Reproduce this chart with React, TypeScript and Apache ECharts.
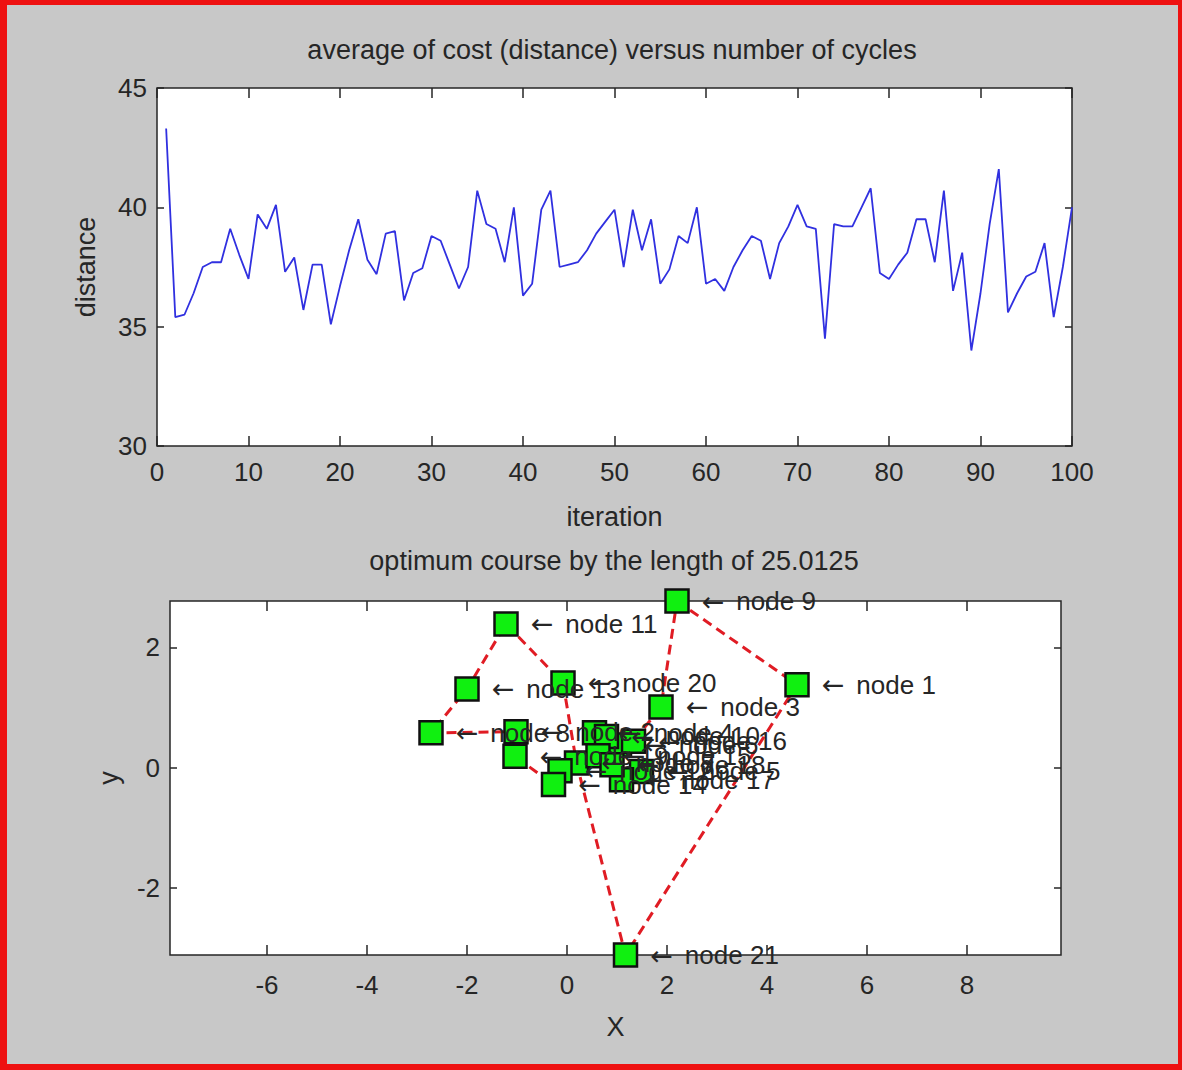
import React, { useEffect, useRef } from "react";
import * as echarts from "echarts";

// ---------- data ----------
const costAverage = [
  43.3, 35.4, 35.5, 36.4, 37.5, 37.7, 37.7, 39.1, 38.0, 37.0,
  39.7, 39.1, 40.1, 37.3, 37.9, 35.7, 37.6, 37.6, 35.1, 36.7,
  38.2, 39.5, 37.8, 37.2, 38.9, 39.0, 36.1, 37.25, 37.45, 38.8,
  38.6, 37.6, 36.6, 37.5, 40.7, 39.3, 39.1, 37.7, 40.0, 36.3,
  36.8, 39.9, 40.7, 37.5, 37.6, 37.7, 38.2, 38.9, 39.4, 39.9,
  37.5, 39.9, 38.2, 39.5, 36.8, 37.4, 38.8, 38.5, 40.0, 36.8,
  37.0, 36.5, 37.5, 38.2, 38.8, 38.6, 37.0, 38.5, 39.2, 40.1,
  39.2, 39.1, 34.5, 39.3, 39.2, 39.2, 40.0, 40.8, 37.25, 37.0,
  37.6, 38.1, 39.5, 39.5, 37.7, 40.7, 36.5, 38.1, 34.0, 36.4,
  39.3, 41.6, 35.6, 36.4, 37.1, 37.3, 38.5, 35.4, 37.5, 40.0,
];

const nodeIds = [1, 2, 3, 4, 5, 6, 7, 8, 9, 10, 11, 12, 13, 14, 15, 16, 17, 18, 19, 20, 21];
const nodeX = [4.6, -1.02, 1.88, 0.55, 1.49, 1.05, 0.19, -2.72, 2.2, 0.79, -1.22, -0.14, -2.0, -0.27, 0.62, 1.33, 1.09, 0.9, -1.04, -0.08, 1.17];
const nodeY = [1.38, 0.6, 1.01, 0.58, -0.06, 0.38, 0.08, 0.58, 2.77, 0.52, 2.39, -0.05, 1.31, -0.28, 0.2, 0.44, -0.2, 0.05, 0.19, 1.41, -3.11];
const tourOrder = [9, 1, 21, 7, 20, 11, 13, 8, 2, 19, 14, 12, 15, 4, 10, 18, 17, 5, 6, 16, 3, 9];

const topTitle = "average of cost (distance) versus number of cycles";
const bottomTitle = "optimum course by the length of 25.0125";
const bottomXTicks = [-6, -4, -2, 0, 2, 4, 6, 8];
const bottomYTicks = [-2, 0, 2];

// ---------- style ----------
const FONT = '"Liberation Sans", Arial, sans-serif';
const TEXT = "#262626";
const FRAME = "#262626";

export default function App() {
  const ref = useRef<HTMLDivElement>(null);

  useEffect(() => {
    if (!ref.current) return;
    const chart = echarts.init(ref.current, null, { renderer: "svg" });

    const lineData = costAverage.map((v, i) => [i + 1, v]);
    const idx = (id: number) => nodeIds.indexOf(id);
    const tourData = tourOrder.map((id) => [nodeX[idx(id)], nodeY[idx(id)]]);
    const nodeData = nodeIds.map((id, i) => ({
      name: "node " + id,
      value: [nodeX[i], nodeY[i]],
    }));

    const labelStyle = { fontFamily: FONT, fontSize: 26, color: TEXT };
    const nameStyle = { fontFamily: FONT, fontSize: 27, color: TEXT };
    const tickStyle = { color: FRAME, width: 1.5 };
    const hiddenLine = { show: false, onZero: false };

    const option: any = {
      animation: false,
      backgroundColor: "#c8c8c8",
      grid: [
        { left: 157, top: 88, width: 915, height: 358, show: true, backgroundColor: "#ffffff", borderColor: FRAME, borderWidth: 1.5 },
        { left: 170, top: 601, width: 891, height: 354, show: true, backgroundColor: "#ffffff", borderColor: FRAME, borderWidth: 1.5 },
      ],
      xAxis: [
        {
          gridIndex: 0, type: "value", min: 0, max: 100, interval: 10, position: "bottom",
          axisLine: hiddenLine,
          axisTick: { inside: true, length: 10, lineStyle: tickStyle },
          axisLabel: { ...labelStyle, margin: 13 },
          splitLine: { show: false },
          name: "iteration", nameLocation: "middle", nameGap: 57, nameTextStyle: nameStyle,
        },
        {
          gridIndex: 0, type: "value", min: 0, max: 100, interval: 10, position: "top",
          axisLine: hiddenLine,
          axisTick: { inside: true, length: 10, lineStyle: tickStyle },
          axisLabel: { show: false }, splitLine: { show: false },
        },
        {
          gridIndex: 1, type: "value", min: -7.94, max: 9.88, position: "bottom",
          axisLine: hiddenLine,
          axisTick: { inside: true, length: 10, lineStyle: tickStyle, customValues: bottomXTicks },
          axisLabel: { ...labelStyle, margin: 17, customValues: bottomXTicks },
          splitLine: { show: false },
          name: "X", nameLocation: "middle", nameGap: 58, nameTextStyle: nameStyle,
        },
        {
          gridIndex: 1, type: "value", min: -7.94, max: 9.88, position: "top",
          axisLine: hiddenLine,
          axisTick: { inside: true, length: 10, lineStyle: tickStyle, customValues: bottomXTicks },
          axisLabel: { show: false, customValues: bottomXTicks }, splitLine: { show: false },
        },
      ],
      yAxis: [
        {
          gridIndex: 0, type: "value", min: 30, max: 45, interval: 5, position: "left",
          axisLine: hiddenLine,
          axisTick: { inside: true, length: 7, lineStyle: tickStyle },
          axisLabel: { ...labelStyle, margin: 10 },
          splitLine: { show: false },
          name: "distance", nameLocation: "middle", nameRotate: 90, nameGap: 58, nameTextStyle: nameStyle,
        },
        {
          gridIndex: 0, type: "value", min: 30, max: 45, interval: 5, position: "right",
          axisLine: hiddenLine,
          axisTick: { inside: true, length: 7, lineStyle: tickStyle },
          axisLabel: { show: false }, splitLine: { show: false },
        },
        {
          gridIndex: 1, type: "value", min: -3.11, max: 2.77, position: "left",
          axisLine: hiddenLine,
          axisTick: { inside: true, length: 7, lineStyle: tickStyle, customValues: bottomYTicks },
          axisLabel: { ...labelStyle, margin: 10, customValues: bottomYTicks },
          splitLine: { show: false },
          name: "y", nameLocation: "middle", nameRotate: 90, nameGap: 48, nameTextStyle: nameStyle,
        },
        {
          gridIndex: 1, type: "value", min: -3.11, max: 2.77, position: "right",
          axisLine: hiddenLine,
          axisTick: { inside: true, length: 7, lineStyle: tickStyle, customValues: bottomYTicks },
          axisLabel: { show: false, customValues: bottomYTicks }, splitLine: { show: false },
        },
      ],
      series: [
        {
          type: "line", xAxisIndex: 0, yAxisIndex: 0, data: lineData,
          showSymbol: false, symbol: "none",
          lineStyle: { color: "#3030e0", width: 1.8 },
          silent: true,
        },
        {
          type: "line", xAxisIndex: 2, yAxisIndex: 2, data: tourData,
          showSymbol: false, symbol: "none", clip: false,
          lineStyle: { color: "#e01c24", width: 3, type: [10, 6] },
          silent: true, z: 2,
        },
        {
          type: "scatter", xAxisIndex: 2, yAxisIndex: 2, data: nodeData,
          symbol: "rect", symbolSize: 23, clip: false, z: 3,
          itemStyle: { color: "#10f010", borderColor: "#101010", borderWidth: 2.5, opacity: 1 },
          label: {
            show: true, position: "right", distance: 12,
            formatter: (p: any) => "{arr|\u2190}" + p.name,
            fontFamily: FONT, fontSize: 26, color: TEXT,
            rich: {
              arr: { fontFamily: '"DejaVu Sans", sans-serif', fontSize: 27, color: TEXT, padding: [0, 12, 0, 0] },
            },
          },
          labelLayout: { hideOverlap: false },
          silent: true,
        },
      ],
      graphic: [
        { type: "rect", shape: { x: 0, y: 0, width: 7, height: 1070 }, style: { fill: "#ee1111" } },
        { type: "rect", shape: { x: 0, y: 0, width: 1182, height: 5 }, style: { fill: "#ee1111" } },
        { type: "rect", shape: { x: 1178, y: 0, width: 4, height: 1070 }, style: { fill: "#ee1111" } },
        { type: "rect", shape: { x: 0, y: 1064, width: 1182, height: 6 }, style: { fill: "#ee1111" } },
        {
          type: "text", x: 612, y: 36,
          style: { text: topTitle, fontFamily: FONT, fontSize: 27, fill: TEXT, align: "center", verticalAlign: "top" },
        },
        {
          type: "text", x: 614, y: 547,
          style: { text: bottomTitle, fontFamily: FONT, fontSize: 27, fill: TEXT, align: "center", verticalAlign: "top" },
        },
      ],
    };

    chart.setOption(option);
    return () => chart.dispose();
  }, []);

  return (
    <div
      ref={ref}
      style={{ position: "absolute", left: 0, top: 0, width: 1182, height: 1070 }}
    />
  );
}
